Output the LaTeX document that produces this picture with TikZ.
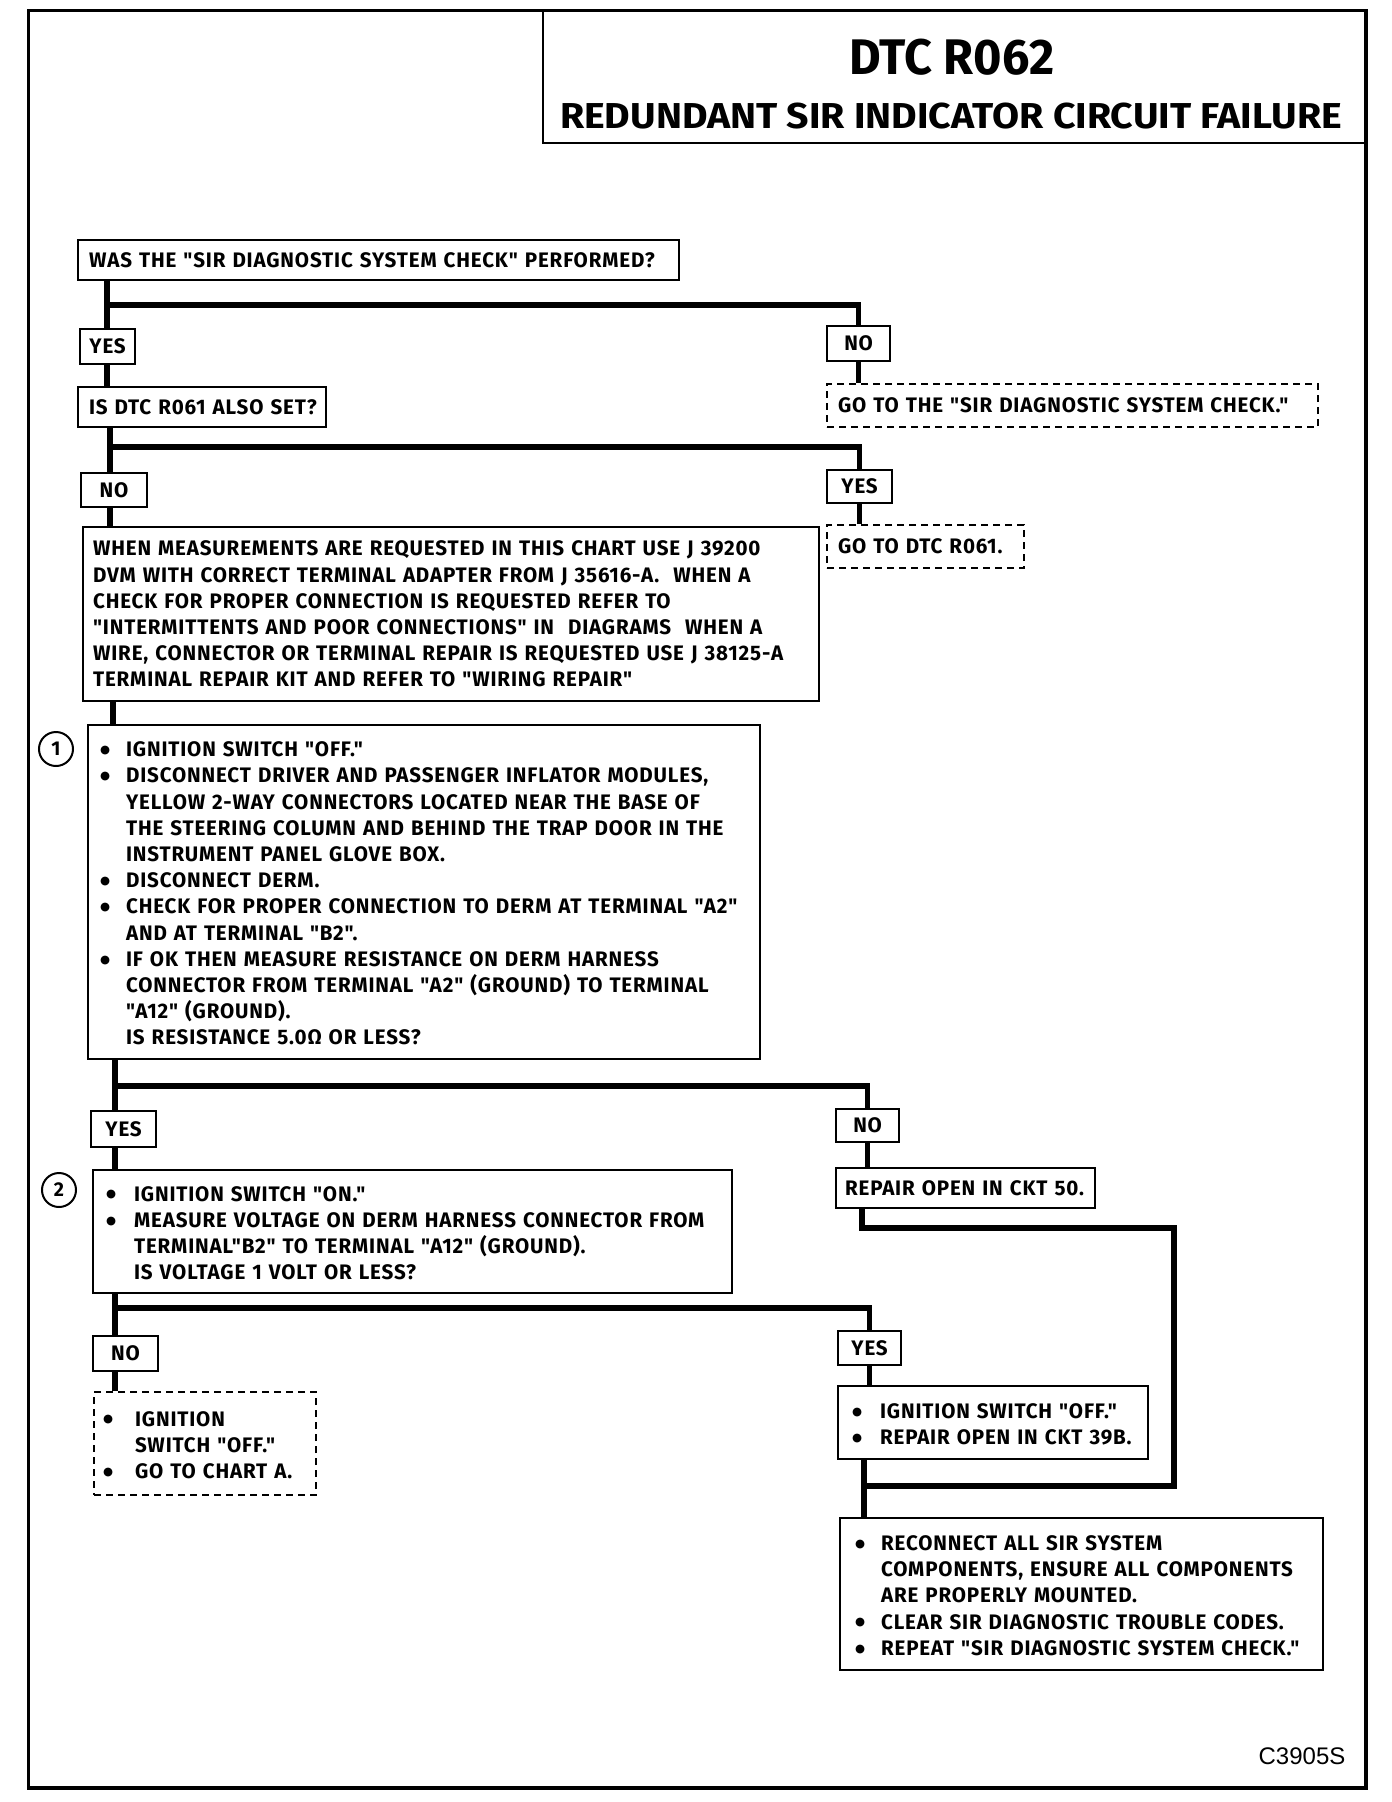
\documentclass[tikz,border=0pt]{standalone}
\usepackage{fontspec}
\newfontfamily\chartfont{Fira Sans}[FakeStretch=0.98, LetterSpace=4]
\newfontfamily\titlefont{Fira Sans}[FakeStretch=0.973]
\newfontfamily\subfont{Fira Sans}[FakeStretch=1.09]
\newfontfamily\codefont{Liberation Sans}
\newfontfamily\symfont{DejaVu Sans}
\newcommand{\bul}{\raisebox{3.2pt}{\symfont\fontsize{11.5}{11.5}\selectfont ●}}
\newcommand{\fs}{\rule{0pt}{25.3pt}}
\tikzset{
  x=1pt, y=-1pt,
  bodyfont/.style={font=\chartfont\bfseries\fontsize{21}{26.2}\selectfont},
  box/.style={draw, line width=2.2pt, anchor=north west, inner ysep=0pt, align=left, bodyfont},
  dbox/.style={box, dash pattern=on 7pt off 5pt},
  lab/.style={draw, line width=2.2pt, anchor=north west, inner sep=0pt, align=center, bodyfont},
  conn/.style={line width=5.5pt, line join=miter},
  num/.style={circle, draw, line width=2pt, minimum size=34pt, inner sep=0pt, font=\chartfont\bfseries\fontsize{20}{20}\selectfont}
}
\begin{document}
\begin{tikzpicture}
\useasboundingbox (0,0) rectangle (1392,1802);
% frame
\draw[line width=3pt] (28,10) rectangle (1366,1788);
\draw[line width=4.5pt] (1366,10) -- (1366,1788) -- (28,1788);
\draw[line width=2.2pt] (543,10) -- (543,143) -- (1366,143);
\node[font=\titlefont\bfseries\fontsize{50}{50}\selectfont] (ttl) at (952,57) {DTC R062};
\node[font=\subfont\bfseries\fontsize{36}{36}\selectfont] (sub) at (951,116) {REDUNDANT SIR INDICATOR CIRCUIT FAILURE};
\node[font=\codefont\fontsize{24}{24}\selectfont] (code) at (1302,1756) {C3905S};

% trunk coordinates
\coordinate (t1) at (107,0);
\coordinate (t2) at (110,0);
\coordinate (t3) at (113,0);
\coordinate (t4) at (115,0);
\coordinate (h1) at (0,305);
\coordinate (h2) at (0,447);
\coordinate (h3) at (0,1086);
\coordinate (h4) at (0,1308);
\coordinate (rx) at (862,0);
\coordinate (lp) at (1174,1228);
\coordinate (mg) at (864,1486);

% nodes
\node[box, inner xsep=11pt, minimum width=601pt, minimum height=40pt, text width=579pt] (A) at (77,239)
  {WAS THE "SIR DIAGNOSTIC SYSTEM CHECK" PERFORMED?};
\node[lab, minimum width=55pt, minimum height=35pt] (yes1) at (79,328) {YES};
\node[lab, minimum width=63pt, minimum height=35pt] (no1) at (826,325) {NO};
\node[dbox, inner xsep=11pt, minimum width=491pt, minimum height=43pt, text width=469pt] (go1) at (826,383)
  {GO TO THE "SIR DIAGNOSTIC SYSTEM CHECK."};
\node[box, inner xsep=11pt, minimum width=248pt, minimum height=40pt, text width=226pt] (B) at (77,386)
  {IS DTC R061 ALSO SET?};
\node[lab, minimum width=66pt, minimum height=34pt] (no2) at (80,472) {NO};
\node[lab, minimum width=65pt, minimum height=33pt] (yes2) at (826,469) {YES};
\node[dbox, inner xsep=11pt, minimum width=197pt, minimum height=43pt, text width=175pt] (go2) at (826,524)
  {GO TO DTC R061.};
\node[box, inner xsep=10pt, minimum width=736pt, minimum height=174pt, text width=716pt] (C) at (82,526)
  {WHEN MEASUREMENTS ARE REQUESTED IN THIS CHART USE J 39200\\
   DVM WITH CORRECT TERMINAL ADAPTER FROM J 35616-A.\ \ WHEN A\\
   CHECK FOR PROPER CONNECTION IS REQUESTED REFER TO\\
   "INTERMITTENTS AND POOR CONNECTIONS" IN\ \ DIAGRAMS\ \ WHEN A\\
   WIRE, CONNECTOR OR TERMINAL REPAIR IS REQUESTED USE J 38125-A\\
   TERMINAL REPAIR KIT AND REFER TO "WIRING REPAIR"};
\node[num] (c1) at (56,749) {1};
\node[box, inner xsep=12pt, minimum width=672pt, minimum height=334pt, text width=648pt] (D) at (87,724)
  {\begin{tabular}{@{}p{26pt}@{}l@{}}
   \fs\bul & IGNITION SWITCH "OFF."\\
   \bul & DISCONNECT DRIVER AND PASSENGER INFLATOR MODULES,\\
        & YELLOW 2-WAY CONNECTORS LOCATED NEAR THE BASE OF\\
        & THE STEERING COLUMN AND BEHIND THE TRAP DOOR IN THE\\
        & INSTRUMENT PANEL GLOVE BOX.\\
   \bul & DISCONNECT DERM.\\
   \bul & CHECK FOR PROPER CONNECTION TO DERM AT TERMINAL "A2"\\
        & AND AT TERMINAL "B2".\\
   \bul & IF OK THEN MEASURE RESISTANCE ON DERM HARNESS\\
        & CONNECTOR FROM TERMINAL "A2" (GROUND) TO TERMINAL\\
        & "A12" (GROUND).\\
        & IS RESISTANCE 5.0Ω OR LESS?
   \end{tabular}};
\node[lab, minimum width=65pt, minimum height=36pt] (yes3) at (90,1110) {YES};
\node[lab, minimum width=63pt, minimum height=33pt] (no3) at (835,1108) {NO};
\node[box, inner xsep=9pt, minimum width=259pt, minimum height=40pt, text width=241pt] (R50) at (835,1167)
  {\mbox{REPAIR OPEN IN CKT 50.}};
\node[num] (c2) at (59,1190) {2};
\node[box, inner xsep=13pt, minimum width=639pt, minimum height=123pt, text width=613pt] (E) at (92,1169)
  {\begin{tabular}{@{}p{28pt}@{}l@{}}
   \fs\bul & IGNITION SWITCH "ON."\\
   \bul & MEASURE VOLTAGE ON DERM HARNESS CONNECTOR FROM\\
        & TERMINAL"B2" TO TERMINAL "A12" (GROUND).\\
        & IS VOLTAGE 1 VOLT OR LESS?
   \end{tabular}};
\node[lab, minimum width=65pt, minimum height=35pt] (no4) at (92,1335) {NO};
\node[dbox, inner xsep=9pt, minimum width=222pt, minimum height=103pt, text width=204pt] (K) at (93,1391)
  {\begin{tabular}{@{}p{32pt}@{}l@{}}
   \fs\bul & IGNITION\\
        & SWITCH "OFF."\\
   \bul & GO TO CHART A.
   \end{tabular}};
\node[lab, minimum width=63pt, minimum height=34pt] (yes4) at (837,1330) {YES};
\node[box, inner xsep=14pt, minimum width=310pt, minimum height=73pt, text width=282pt] (F) at (837,1385)
  {\begin{tabular}{@{}p{28pt}@{}l@{}}
   \fs\bul & IGNITION SWITCH "OFF."\\
   \bul & REPAIR OPEN IN CKT 39B.
   \end{tabular}};
\node[box, inner xsep=15pt, minimum width=483pt, minimum height=152pt, text width=453pt] (G) at (839,1517)
  {\begin{tabular}{@{}p{26pt}@{}l@{}}
   \fs\bul & RECONNECT ALL SIR SYSTEM\\
        & COMPONENTS, ENSURE ALL COMPONENTS\\
        & ARE PROPERLY MOUNTED.\\
   \bul & CLEAR SIR DIAGNOSTIC TROUBLE CODES.\\
   \bul & REPEAT "SIR DIAGNOSTIC SYSTEM CHECK."
   \end{tabular}};

% connectors
\draw[conn] (A.south -| t1) -- (yes1.north -| t1);
\draw[conn] (h1 -| t1) -| (no1.north);
\draw[conn] (yes1.south -| t1) -- (B.north -| t1);
\draw[conn] (no1.south) -- (go1.north -| no1);
\draw[conn] (B.south -| t2) -- (no2.north -| t2);
\draw[conn] (h2 -| t2) -| (yes2.north);
\draw[conn] (no2.south -| t2) -- (C.north -| t2);
\draw[conn] (yes2.south) -- (go2.north -| yes2);
\draw[conn] (C.south -| t3) -- (D.north -| t3);
\draw[conn] (D.south -| t4) -- (yes3.north -| t4);
\draw[conn] (h3 -| t4) -| (no3.north);
\draw[conn] (yes3.south -| t4) -- (E.north -| t4);
\draw[conn] (no3.south) -- (R50.north -| no3);
\draw[conn] (R50.south -| rx) |- (lp) |- (mg);
\draw[conn] (E.south -| t4) -- (no4.north -| t4);
\draw[conn] (h4 -| t4) -| (yes4.north);
\draw[conn] (no4.south -| t4) -- (K.north -| t4);
\draw[conn] (yes4.south) -- (F.north -| yes4);
\draw[conn] (F.south -| mg) -- (G.north -| mg);
\end{tikzpicture}
\end{document}
